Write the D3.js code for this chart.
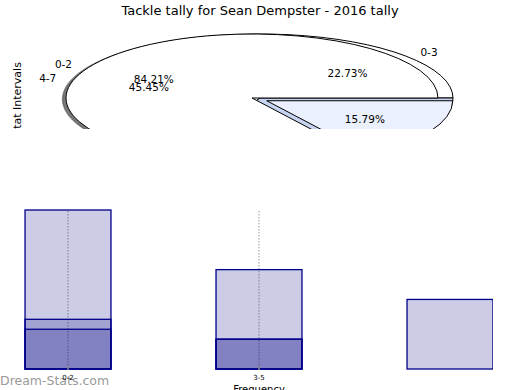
<!DOCTYPE html>
<html><head><meta charset="utf-8">
<script src="https://cdn.jsdelivr.net/npm/d3@7"></script>
<style>body{margin:0;background:#fff}text{font-family:"DejaVu Sans",sans-serif}</style>
</head><body><svg id="c" width="520" height="390"></svg>
<script>
// ---- data ----
const title = "Tackle tally for Sean Dempster - 2016 tally";
const pieALabels = ["0-3", "4-7", "8+"];
const pieAValues = [5, 10, 7];
const pieBLabels = ["0-2", "3-5"];
const pieBValues = [16, 3];
const barCategories = ["0-2", "3-5", "6-8"];
const barTickLabels = ["0-2", "3-5"];
const seriesA = [16, 10, 7];
const seriesB = [5, 3, 0];
const seriesC = [4, 3, 0];
const yLabel = "Stat Intervals";
const xLabel = "Frequency";

const svg = d3.select("#c");
svg.append("text").attr("x", 260).attr("y", 15).attr("text-anchor", "middle")
  .style("font-size", "13px").text(title);

// ---- top panel (pies), clipped ----
const clipBottom = 129;
svg.append("clipPath").attr("id", "topclip").append("rect")
  .attr("x", 0).attr("y", 20).attr("width", 520).attr("height", clipBottom - 20);
const topG = svg.append("g").attr("clip-path", "url(#topclip)");

topG.append("text").attr("transform", "translate(21,99) rotate(-90)")
  .attr("text-anchor", "middle").style("font-size", "11px").text(yLabel);

const arcU = d3.arc().innerRadius(0).outerRadius(1);
function pieGeom(values, cfg) {
  const ps = d3.pie().sort(null)(values);
  return ps.map((p, i) => {
    const a0 = p.startAngle, a1 = p.endAngle; // mpl angles (ccw from 3 o'clock)
    const mid = (a0 + a1) / 2;
    const e = (cfg.explode[i] || 0);
    return {
      value: p.value, i,
      d: arcU({startAngle: Math.PI / 2 - a1, endAngle: Math.PI / 2 - a0}),
      mid,
      ox: cfg.cx + e * cfg.rx * Math.cos(mid),
      oy: cfg.cy - e * cfg.ry * Math.sin(mid),
      frac: p.value / d3.sum(values)
    };
  });
}
const cfgA = {cx: 260, cy: 98, rx: 193, ry: 64, explode: [0, 0, 0], colors: ["#ffffff", "#ffffff", "#c6d4f2"]};
const cfgB = {cx: 252, cy: 98, rx: 186, ry: 64, explode: [0, 0.09], colors: ["#ffffff", "#eaf0fd"]};
const gA = pieGeom(pieAValues, cfgA), gB = pieGeom(pieBValues, cfgB);

function drawShadows(g, cfg) {
  g.forEach(w => {
    topG.append("path").attr("d", w.d)
      .attr("transform", `translate(${w.ox - 0.02 * cfg.rx},${w.oy + 0.02 * cfg.ry}) scale(${cfg.rx},${cfg.ry})`)
      .attr("fill", "rgba(77,77,77,0.5)").attr("stroke", "rgba(77,77,77,0.5)")
      .attr("stroke-width", 1).attr("vector-effect", "non-scaling-stroke");
  });
}
function drawWedges(g, cfg) {
  g.forEach(w => {
    topG.append("path").attr("d", w.d)
      .attr("transform", `translate(${w.ox},${w.oy}) scale(${cfg.rx},${cfg.ry})`)
      .attr("fill", cfg.colors[w.i]).attr("stroke", "#000")
      .attr("stroke-width", 1).attr("stroke-linejoin", "round")
      .attr("vector-effect", "non-scaling-stroke");
  });
}
function drawLabels(g, cfg, labels) {
  g.forEach(w => {
    const c = Math.cos(w.mid), s = Math.sin(w.mid);
    const ly = w.oy - 1.1 * cfg.ry * s, py = w.oy - 0.6 * cfg.ry * s;
    if (ly < clipBottom - 8)
      topG.append("text").attr("x", w.ox + 1.1 * cfg.rx * c).attr("y", ly)
        .attr("dy", "0.35em").attr("text-anchor", c > 0 ? "start" : "end")
        .style("font-size", "10.5px").text(labels[w.i]);
    if (py < clipBottom - 8)
      topG.append("text").attr("x", w.ox + 0.6 * cfg.rx * c).attr("y", py)
        .attr("dy", "0.35em").attr("text-anchor", "middle")
        .style("font-size", "10.5px").text((w.frac * 100).toFixed(2) + "%");
  });
}
drawShadows(gA, cfgA);
drawShadows(gB, cfgB);
drawWedges(gA, cfgA);
drawWedges(gB, cfgB);
drawLabels(gA, cfgA, pieALabels);
drawLabels(gB, cfgB, pieBLabels);

// ---- bottom panel (bars) ----
const x = d3.scaleLinear().domain([0, 2]).range([68, 450]);
const y = d3.scaleLinear().domain([0, 16]).range([369, 210]);
const bw = 0.45 * (x(1) - x(0));
svg.append("clipPath").attr("id", "botclip").append("rect")
  .attr("x", 0).attr("y", 190).attr("width", 493).attr("height", 180);
const bot = svg.append("g").attr("clip-path", "url(#botclip)");

// gridlines
bot.selectAll(".grid").data(barTickLabels).join("line")
  .attr("x1", (d, i) => x(i)).attr("x2", (d, i) => x(i))
  .attr("y1", y(16) + 1).attr("y2", y(0))
  .attr("stroke", "#999").attr("stroke-width", 1).attr("stroke-dasharray", "1.5,1.5");

[seriesA, seriesB, seriesC].forEach(s => {
  bot.selectAll(null).data(s).join("rect")
    .attr("x", (d, i) => x(i) - bw / 2).attr("width", bw)
    .attr("y", d => y(d)).attr("height", d => y(0) - y(d))
    .attr("fill", "rgba(0,0,128,0.2)")
    .attr("stroke", d => d > 0 ? "#00008b" : "none").attr("stroke-width", 1.3);
});

// ticks
svg.selectAll(".tk").data(barTickLabels).join("line")
  .attr("x1", (d, i) => x(i)).attr("x2", (d, i) => x(i))
  .attr("y1", 366).attr("y2", 370).attr("stroke", "#888").attr("stroke-width", 1.5);

svg.append("text").attr("x", 0).attr("y", 385)
  .style("font-size", "12.5px").attr("fill", "#999").text("Dream-Stats.com");

svg.selectAll(".tl").data(barTickLabels).join("text")
  .attr("x", (d, i) => x(i)).attr("y", 380).attr("text-anchor", "middle")
  .style("font-size", "7px").text(d => d);

svg.append("text").attr("x", 259).attr("y", 393).attr("text-anchor", "middle")
  .style("font-size", "10px").text(xLabel);
</script></body></html>
